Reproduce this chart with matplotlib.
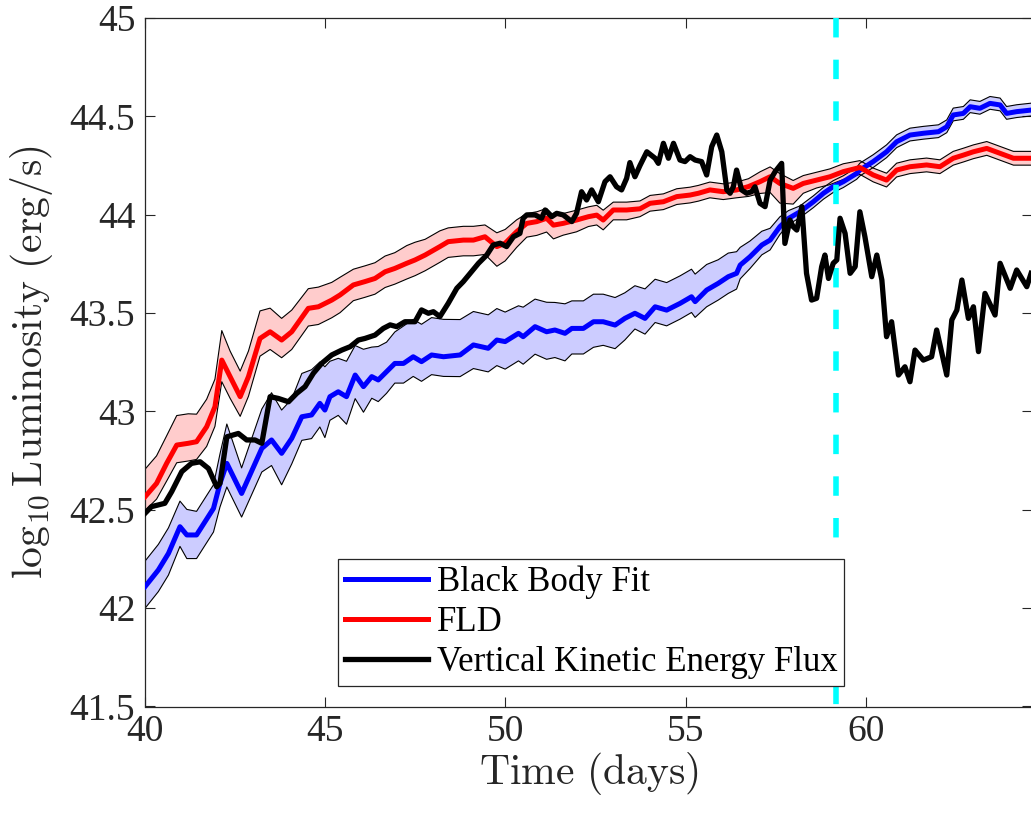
import matplotlib
matplotlib.use('Agg')
import matplotlib.pyplot as plt
from matplotlib.ticker import FuncFormatter
from matplotlib import font_manager

# ---------------- data ----------------
bb_t = [40.00, 40.37, 40.65, 40.97, 41.16, 41.43, 41.90, 42.08, 42.27, 42.68,
        43.24, 43.51, 43.79, 44.07, 44.35, 44.62, 44.85, 44.99, 45.13, 45.36,
        45.59, 45.83, 46.06, 46.29, 46.47, 46.70, 46.93, 47.17, 47.44, 47.67,
        47.95, 48.28, 48.74, 49.11, 49.52, 49.76, 49.99, 50.36, 50.49, 50.82,
        51.14, 51.37, 51.65, 51.84, 52.16, 52.44, 52.71, 53.04, 53.31, 53.59,
        53.87, 54.15, 54.47, 54.84, 55.16, 55.26, 55.58, 55.90, 56.18, 56.41,
        56.51, 56.78, 57.11, 57.34, 57.61, 57.85, 58.17, 58.54, 58.82, 59.09,
        59.37, 59.74, 59.83, 60.20, 60.57, 60.85, 61.22, 61.59, 62.01, 62.24,
        62.42, 62.70, 62.89, 63.16, 63.44, 63.72, 63.90, 64.18, 64.58]
bb_L = [42.109, 42.194, 42.278, 42.414, 42.372, 42.372, 42.507, 42.634, 42.736, 42.583,
        42.812, 42.855, 42.787, 42.863, 42.973, 42.982, 43.041, 43.007, 43.075, 43.100,
        43.075, 43.185, 43.126, 43.177, 43.160, 43.202, 43.244, 43.244, 43.278, 43.253,
        43.287, 43.278, 43.287, 43.338, 43.321, 43.363, 43.355, 43.397, 43.380, 43.431,
        43.405, 43.414, 43.397, 43.422, 43.422, 43.456, 43.456, 43.439, 43.473, 43.499,
        43.473, 43.532, 43.515, 43.549, 43.583, 43.558, 43.617, 43.651, 43.685, 43.702,
        43.744, 43.786, 43.846, 43.871, 43.939, 43.981, 44.015, 44.066, 44.109, 44.143,
        44.168, 44.210, 44.227, 44.270, 44.320, 44.371, 44.405, 44.414, 44.422, 44.447,
        44.507, 44.515, 44.549, 44.541, 44.566, 44.558, 44.515, 44.524, 44.532]
bb_up = [0.13, 0.13, 0.13, 0.13, 0.13, 0.12, 0.12, 0.15, 0.20, 0.13,
         0.20, 0.24, 0.22, 0.20, 0.22, 0.23, 0.21, 0.22, 0.18, 0.17,
         0.18, 0.15, 0.19, 0.15, 0.17, 0.15, 0.16, 0.19, 0.19, 0.19,
         0.19, 0.19, 0.18, 0.17, 0.17, 0.16, 0.15, 0.14, 0.15, 0.14,
         0.15, 0.14, 0.15, 0.14, 0.14, 0.14, 0.14, 0.14, 0.13, 0.14,
         0.15, 0.14, 0.14, 0.14, 0.14, 0.14, 0.13, 0.12, 0.12, 0.11,
         0.09, 0.08, 0.07, 0.06, 0.05, 0.04, 0.03, 0.03, 0.03, 0.03,
         0.03, 0.03, 0.035, 0.035, 0.035, 0.035, 0.035, 0.035, 0.035, 0.035,
         0.035, 0.035, 0.035, 0.035, 0.035, 0.035, 0.035, 0.035, 0.035]
bb_dn = [0.11, 0.11, 0.11, 0.10, 0.12, 0.12, 0.12, 0.12, 0.12, 0.12,
         0.12, 0.13, 0.16, 0.13, 0.12, 0.12, 0.12, 0.14, 0.12, 0.12,
         0.14, 0.12, 0.13, 0.11, 0.11, 0.11, 0.10, 0.10, 0.10, 0.10,
         0.10, 0.10, 0.11, 0.12, 0.12, 0.13, 0.14, 0.14, 0.14, 0.14,
         0.14, 0.14, 0.14, 0.13, 0.13, 0.13, 0.12, 0.12, 0.11, 0.08,
         0.08, 0.08, 0.08, 0.08, 0.08, 0.08, 0.085, 0.085, 0.085, 0.08,
         0.07, 0.06, 0.05, 0.05, 0.04, 0.03, 0.03, 0.03, 0.03, 0.03,
         0.03, 0.03, 0.03, 0.03, 0.03, 0.03, 0.03, 0.03, 0.03, 0.03,
         0.03, 0.03, 0.03, 0.03, 0.03, 0.03, 0.03, 0.03, 0.03]

fld_t = [40.00, 40.32, 40.60, 40.88, 41.20, 41.43, 41.71, 41.94, 42.13, 42.36,
         42.64, 42.87, 43.19, 43.47, 43.79, 44.07, 44.53, 44.81, 45.18, 45.41,
         45.78, 46.10, 46.38, 46.66, 46.93, 47.26, 47.49, 47.77, 48.18, 48.41,
         48.83, 49.11, 49.43, 49.76, 49.99, 50.31, 50.59, 50.87, 51.14, 51.33,
         51.60, 51.97, 52.30, 52.53, 52.71, 52.99, 53.36, 53.73, 54.01, 54.38,
         54.75, 55.12, 55.35, 55.67, 56.04, 56.41, 56.74, 57.06, 57.34, 57.61,
         57.98, 58.26, 58.63, 59.00, 59.37, 59.83, 60.20, 60.57, 60.85, 61.22,
         61.68, 62.05, 62.42, 62.70, 62.98, 63.35, 63.72, 64.09, 64.58]
fld_L = [42.566, 42.634, 42.736, 42.829, 42.838, 42.846, 42.922, 43.024, 43.261, 43.177,
         43.075, 43.177, 43.371, 43.405, 43.363, 43.405, 43.524, 43.532, 43.566, 43.592,
         43.643, 43.660, 43.676, 43.710, 43.727, 43.753, 43.770, 43.795, 43.838, 43.863,
         43.871, 43.871, 43.888, 43.838, 43.855, 43.914, 43.956, 43.965, 43.982, 43.947,
         43.956, 43.973, 43.990, 43.998, 43.973, 44.024, 44.024, 44.030, 44.058, 44.066,
         44.092, 44.100, 44.109, 44.126, 44.117, 44.126, 44.143, 44.168, 44.193, 44.159,
         44.134, 44.159, 44.176, 44.193, 44.219, 44.240, 44.202, 44.176, 44.227, 44.244,
         44.253, 44.244, 44.287, 44.303, 44.320, 44.337, 44.312, 44.287, 44.287]
fld_up = [0.14, 0.14, 0.14, 0.15, 0.15, 0.14, 0.14, 0.14, 0.15, 0.13,
          0.13, 0.13, 0.14, 0.12, 0.11, 0.11, 0.10, 0.10, 0.09, 0.09,
          0.08, 0.08, 0.08, 0.08, 0.08, 0.09, 0.09, 0.08, 0.08, 0.07,
          0.07, 0.07, 0.06, 0.07, 0.07, 0.06, 0.05, 0.05, 0.05, 0.05,
          0.05, 0.05, 0.05, 0.05, 0.05, 0.04, 0.04, 0.04, 0.04, 0.04,
          0.04, 0.04, 0.04, 0.04, 0.04, 0.04, 0.04, 0.05, 0.05, 0.05,
          0.04, 0.04, 0.04, 0.04, 0.04, 0.035, 0.035, 0.035, 0.035, 0.035,
          0.035, 0.035, 0.035, 0.035, 0.035, 0.035, 0.035, 0.035, 0.035]
fld_dn = [0.07, 0.08, 0.09, 0.09, 0.09, 0.09, 0.10, 0.10, 0.11, 0.11,
          0.10, 0.10, 0.09, 0.09, 0.09, 0.09, 0.09, 0.09, 0.09, 0.09,
          0.08, 0.08, 0.08, 0.08, 0.08, 0.08, 0.08, 0.08, 0.08, 0.08,
          0.08, 0.08, 0.09, 0.10, 0.09, 0.08, 0.07, 0.07, 0.07, 0.07,
          0.06, 0.06, 0.05, 0.05, 0.05, 0.05, 0.05, 0.04, 0.04, 0.04,
          0.04, 0.04, 0.04, 0.04, 0.04, 0.04, 0.05, 0.06, 0.08, 0.10,
          0.08, 0.05, 0.04, 0.04, 0.04, 0.035, 0.035, 0.035, 0.035, 0.035,
          0.035, 0.035, 0.035, 0.035, 0.035, 0.035, 0.035, 0.035, 0.035]

ke_t = [40.00, 40.18, 40.55, 40.74, 41.02, 41.29, 41.53, 41.76, 41.99, 42.08,
        42.27, 42.59, 42.82, 43.05, 43.24, 43.47, 43.70, 43.98, 44.21, 44.44,
        44.67, 44.90, 45.18, 45.46, 45.69, 45.92, 46.10, 46.38, 46.61, 46.80,
        46.98, 47.21, 47.49, 47.67, 47.86, 48.00, 48.18, 48.41, 48.65, 48.83,
        49.02, 49.25, 49.48, 49.66, 49.85, 50.03, 50.22, 50.40, 50.49, 50.59,
        50.82, 51.00, 51.10, 51.28, 51.42, 51.60, 51.84, 51.97, 52.11, 52.25,
        52.39, 52.575, 52.76, 52.90, 53.08, 53.22, 53.36, 53.45, 53.59, 53.73,
        53.92, 54.15, 54.24, 54.38, 54.52, 54.66, 54.84, 54.98, 55.12, 55.26,
        55.44, 55.58, 55.72, 55.86, 56.00, 56.14, 56.23, 56.32, 56.41, 56.55,
        56.69, 56.83, 56.92, 57.06, 57.20, 57.34, 57.48, 57.66, 57.75, 57.89,
        57.98, 58.08, 58.22, 58.35, 58.49, 58.63, 58.77, 58.86, 58.96, 59.09,
        59.19, 59.28, 59.42, 59.56, 59.70, 59.83, 59.97, 60.16, 60.30, 60.44,
        60.57, 60.71, 60.90, 61.08, 61.22, 61.36, 61.59, 61.82, 61.96, 62.24,
        62.38, 62.52, 62.66, 62.84, 62.98, 63.12, 63.30, 63.58, 63.72, 64.00,
        64.18, 64.46, 64.58]
ke_L = [42.482, 42.516, 42.533, 42.592, 42.694, 42.736, 42.744, 42.710, 42.617, 42.634,
        42.871, 42.888, 42.855, 42.855, 42.838, 43.075, 43.066, 43.049, 43.092, 43.126,
        43.194, 43.244, 43.287, 43.312, 43.329, 43.363, 43.371, 43.388, 43.422, 43.440,
        43.431, 43.456, 43.456, 43.516, 43.499, 43.507, 43.482, 43.549, 43.626, 43.660,
        43.702, 43.753, 43.795, 43.846, 43.855, 43.838, 43.888, 43.905, 43.982, 43.999,
        43.999, 43.982, 44.024, 43.990, 44.007, 43.999, 43.965, 44.007, 44.117, 44.075,
        44.126, 44.066, 44.168, 44.193, 44.142, 44.126, 44.185, 44.265, 44.193, 44.250,
        44.320, 44.287, 44.261, 44.363, 44.287, 44.363, 44.278, 44.270, 44.295, 44.278,
        44.270, 44.202, 44.346, 44.405, 44.320, 44.126, 44.109, 44.142, 44.227, 44.126,
        44.109, 44.117, 44.142, 44.058, 44.041, 44.176, 44.219, 44.261, 43.854, 43.973,
        43.939, 43.922, 44.041, 43.702, 43.566, 43.575, 43.736, 43.795, 43.676, 43.753,
        43.770, 43.982, 43.905, 43.702, 43.736, 44.015, 43.888, 43.685, 43.795, 43.668,
        43.380, 43.456, 43.185, 43.227, 43.151, 43.312, 43.261, 43.278, 43.414, 43.185,
        43.465, 43.515, 43.668, 43.473, 43.532, 43.304, 43.600, 43.490, 43.753, 43.626,
        43.719, 43.634, 43.702]

t_marker = 59.17          # time of the vertical dashed marker
labels = ['Black Body Fit', 'FLD', 'Vertical Kinetic Energy Flux']
xticks = [40, 45, 50, 55, 60]
yticks = [41.5, 42, 42.5, 43, 43.5, 44, 44.5, 45]

# ---------------- style ----------------
serif_pref = ['Liberation Serif', 'Nimbus Roman', 'Times New Roman', 'DejaVu Serif']
installed = {f.name for f in font_manager.fontManager.ttflist}
serif_list = [f for f in serif_pref if f in installed] or ['DejaVu Serif']
plt.rcParams['font.family'] = 'serif'
plt.rcParams['font.serif'] = serif_list
plt.rcParams['mathtext.fontset'] = 'cm'

W, H = 1031, 815
fig = plt.figure(figsize=(W / 100, H / 100), dpi=100)
ax = fig.add_axes([145 / W, 108.5 / H, 887 / W, 688.5 / H])

def band(t, L, up, dn, fc):
    hi = [l + u for l, u in zip(L, up)]
    lo = [l - d for l, d in zip(L, dn)]
    ax.fill_between(t, lo, hi, facecolor=fc, edgecolor='none', zorder=1)
    ax.plot(t, hi, color='black', lw=0.8, zorder=2)
    ax.plot(t, lo, color='black', lw=0.8, zorder=2)

band(bb_t, bb_L, bb_up, bb_dn, '#ccccff')
band(fld_t, fld_L, fld_up, fld_dn, '#ffcccc')

l1, = ax.plot(bb_t, bb_L, color='#0000ff', lw=3.6, zorder=3, label=labels[0])
l2, = ax.plot(fld_t, fld_L, color='#ff0000', lw=3.6, zorder=3, label=labels[1])
ax.plot([t_marker, t_marker], [45, 41.5], color='#00ffff', lw=4.0,
        dashes=(3.5, 4.0), zorder=4)
l3, = ax.plot(ke_t, ke_L, color='black', lw=3.8, zorder=5, label=labels[2])

ax.set_xlim(40, 40 + 887 / 36.05)
ax.set_ylim(41.5, 45)
ax.set_xticks(xticks)
ax.set_yticks(yticks)
ax.yaxis.set_major_formatter(FuncFormatter(lambda v, p: '%g' % v))
ax.tick_params(direction='in', length=7, width=0.8, colors='#262626',
               labelsize=27, top=True, right=True, pad=7)
ax.tick_params(axis='x', pad=6)
for s in ax.spines.values():
    s.set_color('#262626')
    s.set_linewidth(0.9)

ax.set_xlabel(r'$\mathrm{Time\ (days)}$', fontsize=30, color='#262626')
ax.xaxis.set_label_coords(0.5, -0.063)
ax.set_ylabel(r'$\log_{10}\mathrm{Luminosity\ (erg/s)}$', fontsize=30, color='#262626')
ax.yaxis.set_label_coords(-0.102, 0.5)

leg = ax.legend(handles=[l1, l2, l3], loc='lower left',
                bbox_to_anchor=(0.2173, 0.0298), borderaxespad=0,
                fontsize=25, frameon=True, fancybox=False, framealpha=1,
                edgecolor='#262626', handlelength=2.4, handletextpad=0.25,
                labelspacing=0.2, borderpad=0.2)
leg.get_frame().set_linewidth(0.9)
leg.set_zorder(10)

fig.savefig('out.png', dpi=100)
